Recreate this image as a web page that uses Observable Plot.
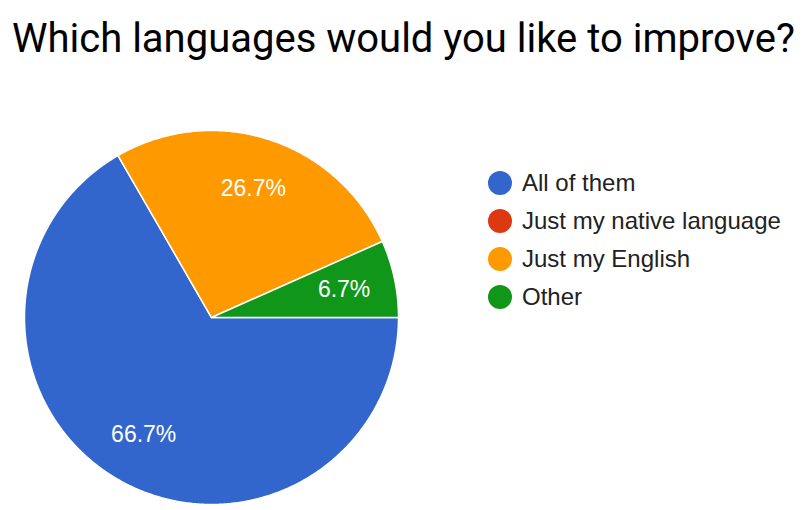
<!DOCTYPE html>
<html>
<head>
<meta charset="utf-8">
<script src="https://cdn.jsdelivr.net/npm/d3@7"></script>
<script src="https://cdn.jsdelivr.net/npm/@observablehq/plot@0.6"></script>
<style>
  html, body { margin: 0; padding: 0; background: #fff; }
  #wrap { position: relative; width: 802px; height: 510px; overflow: hidden; }
  #title { height: 80px; box-sizing: border-box; padding-top: 15px; padding-left: 12px;
           font-family: Roboto, sans-serif; font-size: 40px; line-height: normal; color: #000; white-space: nowrap; }
  #legend { position: absolute; left: 488px; top: 164px; font-family: "Liberation Sans", Arial, sans-serif;
            font-size: 24px; color: #222; }
  .row { height: 38px; display: flex; align-items: center; }
  .sw { width: 24px; height: 24px; border-radius: 50%; margin-right: 10px; flex: none; }
</style>
</head>
<body>
<div id="wrap">
  <div id="title">Which languages would you like to improve?</div>
  <div id="chart"></div>
  <div id="legend"></div>
</div>
<script>
const categories = ["All of them", "Just my native language", "Just my English", "Other"];
const counts = [10, 0, 4, 1];
const colors = ["#3366cc", "#dc3912", "#ff9900", "#109618"];

const total = d3.sum(counts);
const pie = d3.pie().sort(null).startAngle(Math.PI / 2).endAngle(Math.PI / 2 + 2 * Math.PI);
const arcs = pie(counts);

const poly = [];
const labels = [];
arcs.forEach((a, i) => {
  if (a.value <= 0) return;
  const key = categories[i];
  poly.push({key, x: 0, y: 0});
  const n = Math.max(2, Math.ceil((a.endAngle - a.startAngle) / (Math.PI / 360)));
  for (let k = 0; k <= n; k++) {
    const t = a.startAngle + (a.endAngle - a.startAngle) * k / n;
    poly.push({key, x: Math.sin(t), y: Math.cos(t)});
  }
  poly.push({key, x: 0, y: 0});
  const m = (a.startAngle + a.endAngle) / 2;
  labels.push({key, x: 0.725 * Math.sin(m), y: 0.725 * Math.cos(m),
               text: (a.value / total * 100).toFixed(1) + "%"});
});

const chart = Plot.plot({
  width: 802,
  height: 430,
  margin: 0,
  x: {domain: [-1, 1], range: [24, 398], axis: null},
  y: {domain: [-1, 1], range: [424, 50], axis: null},
  color: {domain: categories, range: colors},
  style: {background: "transparent", overflow: "visible"},
  marks: [
    Plot.line(poly, {x: "x", y: "y", z: "key", fill: "key", stroke: "white", strokeWidth: 1.5, curve: "linear"}),
    Plot.text(labels, {x: "x", y: "y", text: "text", fill: "white", fontSize: 23,
                       fontFamily: "'Liberation Sans', Arial, sans-serif"})
  ]
});
document.getElementById("chart").appendChild(chart);

const legend = d3.select("#legend");
categories.forEach((c, i) => {
  const row = legend.append("div").attr("class", "row");
  row.append("div").attr("class", "sw").style("background", colors[i]);
  row.append("span").text(c);
});
</script>
</body>
</html>
